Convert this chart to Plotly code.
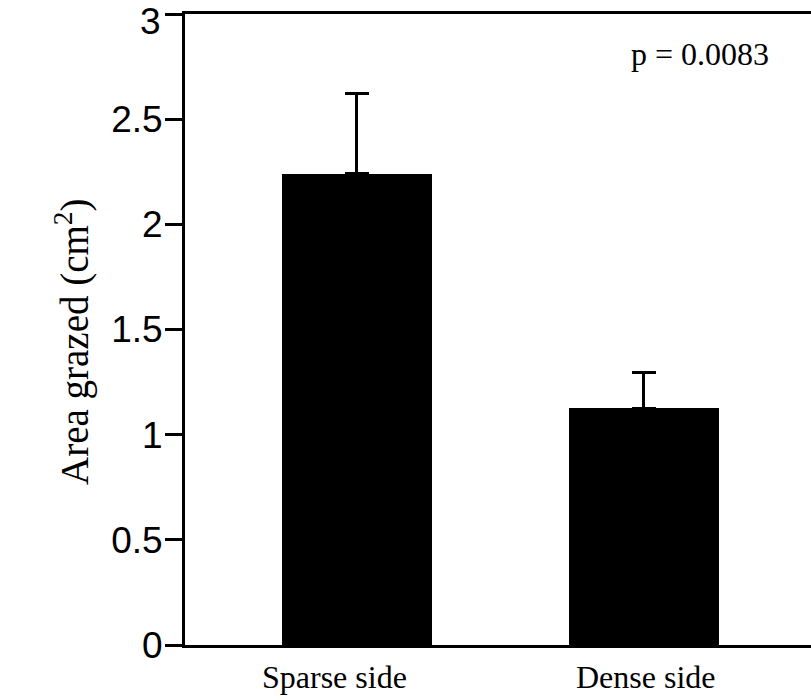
import plotly.graph_objects as go

categories = ["Sparse side", "Dense side"]
means = [2.24, 1.125]
errors_upper = [0.38, 0.17]
y_tick_vals = [0, 0.5, 1, 1.5, 2, 2.5, 3]
y_tick_text = ["0", "0.5", "1", "1.5", "2", "2.5", "3"]
y_title = "Area grazed (cm<sup>2</sup>)"
p_label = "p = 0.0083"

x_pos = list(range(len(categories)))
label_xshift = [-22, 2]  # layout offsets of category labels

L, R, T, B, W, H = 185, 0, 14, 55, 811, 700
plot_w = W - L - R

fig = go.Figure()
fig.add_trace(go.Bar(
    x=x_pos, y=means, width=0.523,
    marker=dict(color="black", line=dict(width=0)),
    error_y=dict(type="data", array=errors_upper, arrayminus=[0] * len(means),
                 symmetric=False, color="black", thickness=3, width=12),
    showlegend=False,
))

serif = "Liberation Serif, Times New Roman, serif"
sans = "Liberation Sans, Arial, sans-serif"

annotations = [dict(
    text=p_label, x=(700 - 357) / 287, y=2.81, xref="x", yref="y",
    showarrow=False, font=dict(family=serif, size=32, color="black"),
)]
for i, cat in enumerate(categories):
    annotations.append(dict(
        text=cat, x=x_pos[i], y=0, xref="x", yref="y", yanchor="top",
        xshift=label_xshift[i], yshift=-12, showarrow=False,
        font=dict(family=serif, size=32, color="black"),
    ))
# y-axis title
annotations.append(dict(
    text=y_title, textangle=-90, xref="paper", yref="paper",
    x=(72 - L) / plot_w, y=(H - B - 342) / (H - T - B),
    xanchor="center", yanchor="middle", showarrow=False,
    font=dict(family=serif, size=39, color="black"),
))
# top tick label, drawn slightly lower as in the reference
annotations.append(dict(
    text=y_tick_text[-1], xref="paper", yref="y", x=(163 - L) / plot_w, y=y_tick_vals[-1],
    xanchor="right", yanchor="middle", yshift=-7, showarrow=False,
    font=dict(family=sans, size=37, color="black"),
))

fig.update_layout(
    width=W, height=H,
    margin=dict(l=L, r=R, t=T, b=B, autoexpand=False),
    plot_bgcolor="white", paper_bgcolor="white",
    bargap=0,
    xaxis=dict(
        range=[-0.599, 1.582], tickmode="array", tickvals=x_pos,
        showline=True, linecolor="black", linewidth=3, mirror=True,
        ticks="", showgrid=False, zeroline=False, showticklabels=False,
    ),
    yaxis=dict(
        range=[0, 3], tickmode="array", tickvals=y_tick_vals,
        ticktext=y_tick_text[:-1] + [""],
        showline=True, linecolor="black", linewidth=3,
        ticks="outside", ticklen=17, tickwidth=3, tickcolor="black",
        showgrid=False, zeroline=False, ticklabelstandoff=-5,
        tickfont=dict(family=sans, size=37, color="black"),
    ),
    annotations=annotations,
)

fig.write_html("out.html")
